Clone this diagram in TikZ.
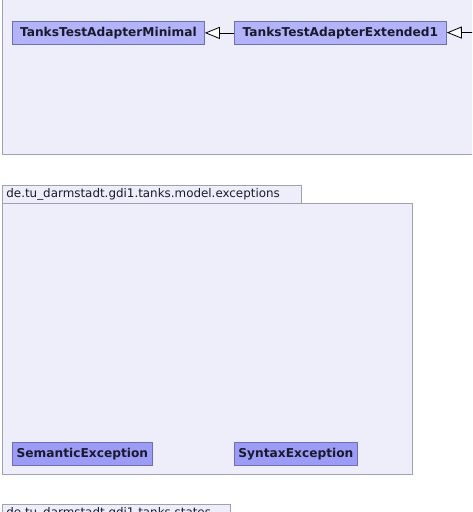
\documentclass[tikz,border=0pt]{standalone}
\usepackage{fontspec}
\setsansfont{DejaVu Sans}
\usetikzlibrary{arrows.meta,positioning}
\definecolor{pkgfill}{HTML}{EEEEFB}
\definecolor{pkgline}{HTML}{A0A0B4}
\definecolor{clsfill}{HTML}{B3B3FA}
\definecolor{clsfillb}{HTML}{9C9CF6}
\definecolor{clsline}{HTML}{6E6EB4}
\definecolor{txt}{HTML}{1A1A2E}
\begin{document}
\begin{tikzpicture}[x=1pt, y=-1pt, >={Triangle[fill=white, length=15pt, width=12pt]},
  pkg/.style={draw=pkgline, fill=pkgfill, line width=0.8pt},
  tab/.style={pkg, anchor=north west, minimum height=18pt, inner xsep=4pt, inner ysep=0pt,
    text=txt, font=\sffamily\fontsize{11.9}{13}\selectfont},
  cls/.style={draw=clsline, fill=clsfill, line width=0.8pt, anchor=north west, minimum height=23pt,
    inner xsep=0pt, text=txt, font=\sffamily\bfseries\fontsize{12.2}{14}\selectfont},
  gen/.style={->, line width=0.8pt}]
  \useasboundingbox (0,0) rectangle (472,512);
  \clip (0,0) rectangle (472,512);
  % package with the test adapters
  \draw[pkg] (2,-10) rectangle (482,154);
  \node[cls, minimum width=192pt] (minimal) at (12,21) {TanksTestAdapterMinimal};
  \node[cls, minimum width=212pt] (extended) at (234,21) {TanksTestAdapterExtended1};
  \coordinate (offright) at (482,32.5);
  \draw[gen] (extended) -- (minimal);
  \draw[gen] (offright) -- (extended);
  % exceptions package
  \draw[pkg] (2,203) rectangle (412,474);
  \node[tab, text width=291pt] (exctab) at (2,185) {de.tu\_darmstadt.gdi1.tanks.model.exceptions};
  \node[cls, fill=clsfillb, minimum width=140pt] (semantic) at (12,442) {SemanticException};
  \node[cls, fill=clsfillb, minimum width=123pt] (syntax) at (234,442) {SyntaxException};
  % states package, cut off at the bottom
  \node[tab, text width=220pt] (statestab) at (2,504) {de.tu\_darmstadt.gdi1.tanks.states};
\end{tikzpicture}
\end{document}
